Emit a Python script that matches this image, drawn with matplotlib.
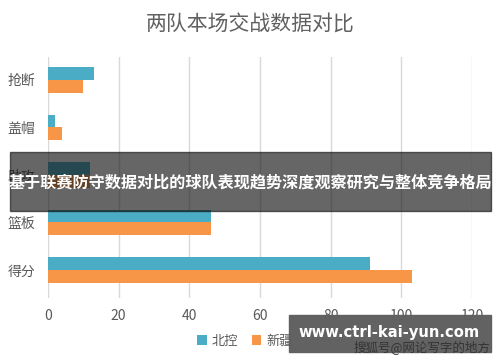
import matplotlib
matplotlib.use("Agg")
import matplotlib.pyplot as plt
from matplotlib.patches import Rectangle

plt.rcParams['font.family'] = ['Noto Sans CJK SC', 'DejaVu Sans']

categories = ["抢断", "盖帽", "助攻", "篮板", "得分"]
beikong = [13, 2, 12, 46, 91]
xinjiang = [10, 4, 12, 46, 103]
series_names = ["北控", "新疆"]
xticks = [0, 20, 40, 60, 80, 100, 120]
title = "两队本场交战数据对比"
banner = "基于联赛防守数据对比的球队表现趋势深度观察研究与整体竞争格局"
watermark = "www.ctrl-kai-yun.com"
source = "搜狐号@网论写字的地方"

c_blue = "#4BACC6"
c_orange = "#F79646"

fig = plt.figure(figsize=(5, 3.62), dpi=100)
ax = fig.add_axes([0.096, 0.177, 0.848, 0.6655])

h = 0.27
ypos = list(range(len(categories)))
ax.barh([y - h / 2 for y in ypos], beikong, height=h, color=c_blue, label=series_names[0], zorder=3)
ax.barh([y + h / 2 for y in ypos], xinjiang, height=h, color=c_orange, label=series_names[1], zorder=3)

ax.set_xlim(0, 120)
ax.set_ylim(4.59, -0.48)
ax.set_xticks(xticks)
ax.set_yticks(ypos)
ax.set_yticklabels(categories)
ax.grid(axis='x', color='#d9d9d9', linewidth=1, zorder=0)
for s in ax.spines.values():
    s.set_visible(False)
ax.tick_params(axis='both', length=0, colors='#595959', labelsize=10)
ax.tick_params(axis='x', pad=8)
ax.tick_params(axis='y', pad=9)

fig.text(0.5, 0.935, title, ha='center', va='center', fontsize=15, color='#606060')

leg = fig.legend(loc='center', bbox_to_anchor=(0.49, 0.058), ncol=2, frameon=False,
                 fontsize=9.5, handlelength=0.7, handleheight=0.7, handletextpad=0.4,
                 columnspacing=1.0, labelcolor='#595959')

# overlay banner
fig.patches.append(Rectangle((10 / 500, 1 - 211 / 362), 481 / 500, 59 / 362,
                             transform=fig.transFigure, color='#101010', alpha=0.64, zorder=10))
fig.text(0.501, 1 - 183 / 362, banner, ha='center', va='center', fontsize=11.6,
         fontweight='bold', color='white', zorder=11)

# watermark box
fig.patches.append(Rectangle((289 / 500, 1 - 352 / 362), 202 / 500, 37 / 362,
                             transform=fig.transFigure, color='#5f5f5f', alpha=0.98, zorder=10))
fig.text(0.843, 1 - 347 / 362, source, ha='center', va='center', fontsize=9,
         color='#333333', zorder=11)
fig.text(0.778, 1 - 333 / 362, watermark, ha='center', va='center', fontsize=10.6,
         fontweight='bold', color='white', family='DejaVu Sans', zorder=12)

fig.savefig("out.png", dpi=100)
